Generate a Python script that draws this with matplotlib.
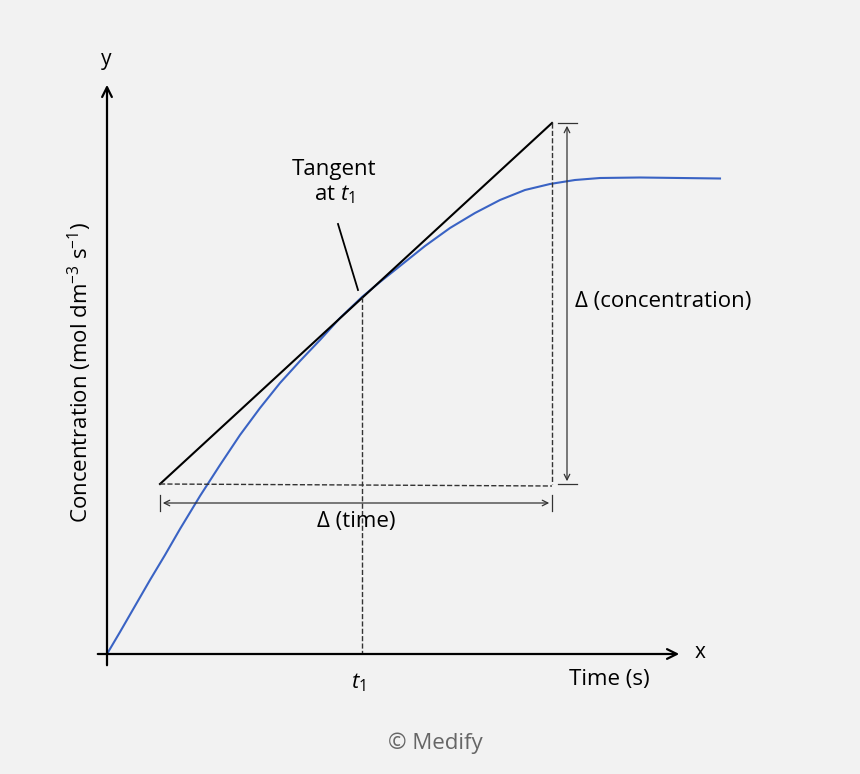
import matplotlib
matplotlib.use("Agg")
import matplotlib.pyplot as plt

plt.rcParams['font.family'] = ['Open Sans', 'DejaVu Sans']
plt.rcParams['mathtext.fontset'] = 'custom'
plt.rcParams['mathtext.it'] = 'Open Sans:italic'
plt.rcParams['mathtext.rm'] = 'Open Sans'

# curve (pixel-like coordinates, y downward)
cx = [107, 120, 135, 150, 165, 180, 200, 220, 240, 260, 280, 300, 320, 340, 362, 380, 400, 425, 450, 475, 500, 525, 550, 575, 600, 640, 680, 720]
cy = [654, 632, 606, 580, 555, 529, 496, 465, 435, 408, 383, 361, 340, 318, 297, 282, 266, 246, 228, 213, 200, 190, 184, 180, 178, 177.5, 178, 178.5]
tan_x = [160, 552]
tan_y = [484, 123]
t1 = (362, 297)

fig = plt.figure(figsize=(8.6, 7.74), dpi=100, facecolor='#f2f2f2')
ax = fig.add_axes([0, 0, 1, 1])
ax.set_xlim(0, 860); ax.set_ylim(774, 0); ax.axis('off')

ax.annotate('', xy=(107, 82), xytext=(107, 668), arrowprops=dict(arrowstyle='->,head_width=0.35,head_length=0.7', lw=1.6, color='black'))
ax.annotate('', xy=(682, 654), xytext=(95, 654), arrowprops=dict(arrowstyle='->,head_width=0.35,head_length=0.7', lw=1.6, color='black'))
ax.text(106, 60, 'y', fontsize=15, ha='center', va='center')
ax.text(700, 653, 'x', fontsize=15, ha='center', va='center')

ax.plot(cx, cy, color='#3a63c4', lw=1.5)
ax.plot(tan_x, tan_y, color='black', lw=1.5)

ax.plot([t1[0], t1[0]], [t1[1], 654], ls='--', color='#333', lw=1)
ax.plot([160, 552], [484, 486], ls='--', color='#333', lw=1)
ax.plot([552, 552], [123, 484], ls='--', color='#333', lw=1)

ax.annotate('', xy=(160, 503), xytext=(552, 503), arrowprops=dict(arrowstyle='<->', lw=0.9, color='#333'))
ax.plot([160, 160], [495, 511], color='#333', lw=0.9)
ax.plot([552, 552], [495, 511], color='#333', lw=0.9)
ax.text(356, 521, 'Δ (time)', fontsize=16, ha='center', va='center')

ax.annotate('', xy=(567, 123), xytext=(567, 484), arrowprops=dict(arrowstyle='<->', lw=0.9, color='#333'))
ax.plot([558, 577], [123, 123], color='#333', lw=0.9)
ax.plot([558, 577], [484, 484], color='#333', lw=0.9)
ax.text(575, 302, 'Δ (concentration)', fontsize=16, ha='left', va='center')

ax.text(334, 183, 'Tangent\nat $t_1$', fontsize=16, ha='center', va='center', linespacing=1.2)
ax.plot([338, 358], [224, 290], color='black', lw=1.3)

ax.text(358, 683, '$t_1$', fontsize=16, ha='center', va='center')
ax.text(609, 680, 'Time (s)', fontsize=16, ha='center', va='center')
ax.text(80, 372, 'Concentration (mol dm$^{-3}$ s$^{-1}$)', fontsize=16, ha='center', va='center', rotation=90)
ax.text(435, 743, '© Medify', fontsize=16, ha='center', va='center', color='#666')

fig.savefig('out.png', dpi=100, facecolor='#f2f2f2')
